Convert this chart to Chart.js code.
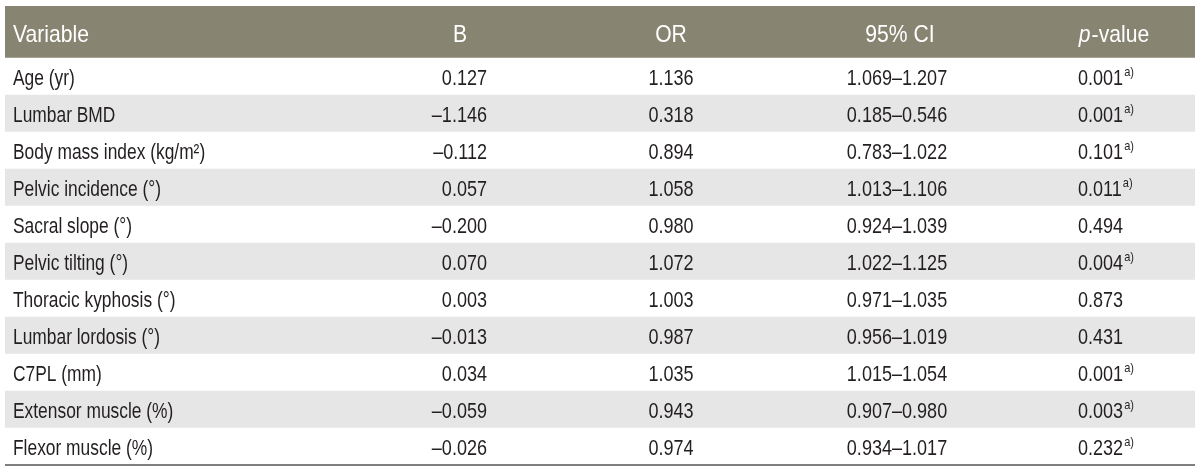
<!DOCTYPE html>
<html><head><meta charset="utf-8">
<script src="https://cdn.jsdelivr.net/npm/chart.js@4/dist/chart.umd.min.js"></script>
<style>html,body{margin:0;padding:0;background:#fff}#wrap{width:1200px;height:472px;position:relative}</style>
</head><body><div id="wrap"><canvas id="c"></canvas></div>
<script>
// ---- data ----
const headers = ['Variable', 'B', 'OR', '95% CI', 'p-value'];
const variables = ['Age (yr)', 'Lumbar BMD', 'Body mass index (kg/m\u00B2)', 'Pelvic incidence (\u00B0)', 'Sacral slope (\u00B0)', 'Pelvic tilting (\u00B0)', 'Thoracic kyphosis (\u00B0)', 'Lumbar lordosis (\u00B0)', 'C7PL (mm)', 'Extensor muscle (%)', 'Flexor muscle (%)'];
const bValues = [0.127, -1.146, -0.112, 0.057, -0.200, 0.070, 0.003, -0.013, 0.034, -0.059, -0.026];
const orValues = [1.136, 0.318, 0.894, 1.058, 0.980, 1.072, 1.003, 0.987, 1.035, 0.943, 0.974];
const ciLow = [1.069, 0.185, 0.783, 1.013, 0.924, 1.022, 0.971, 0.956, 1.015, 0.907, 0.934];
const ciHigh = [1.207, 0.546, 1.022, 1.106, 1.039, 1.125, 1.035, 1.019, 1.054, 0.980, 1.017];
const pValues = [0.001, 0.001, 0.101, 0.011, 0.494, 0.004, 0.873, 0.431, 0.001, 0.003, 0.232];
const pFootnote = ['a)', 'a)', 'a)', 'a)', '', 'a)', '', '', 'a)', 'a)', 'a)'];

// ---- styling / layout ----
const FONT = '"Liberation Sans", Arial, sans-serif';
const HEADER_SPAN = 1.41;
const HEADER_BG = '#878471';
const STRIPE = '#e6e6e6';
const TEXT = '#231f20';
const HEAD_SIZE = 24, HEAD_K = 0.88;
const BODY_SIZE = 22, LABEL_K = 0.79, NUM_K = 0.82;

function fmt(v) { return (v < 0 ? '\u2013' : '') + Math.abs(v).toFixed(3); }

const rowData = [{x: 'row', y: [-HEADER_SPAN, 0]}].concat(variables.map((v, i) => ({x: 'row', y: [i, i + 1]})));
const rowColors = [HEADER_BG].concat(variables.map((v, i) => i % 2 ? STRIPE : '#ffffff'));

function drawNarrow(ctx, str, x, y, align, font, k) {
  ctx.save();
  ctx.font = font;
  ctx.textAlign = align;
  ctx.textBaseline = 'alphabetic';
  ctx.translate(x, y);
  ctx.scale(k, 1);
  ctx.fillText(str, 0, 0);
  const w = ctx.measureText(str).width * k;
  ctx.restore();
  return w;
}
function widthNarrow(ctx, str, font, k) {
  ctx.save(); ctx.font = font; const w = ctx.measureText(str).width * k; ctx.restore(); return w;
}

const tablePlugin = {
  id: 'tableText',
  afterDatasetsDraw(chart) {
    const ctx = chart.ctx, ys = chart.scales.y, cs = chart.scales.col;
    const area = chart.chartArea;
    ctx.save();
    const hf = HEAD_SIZE + 'px ' + FONT, hfi = 'italic ' + hf;
    const bf = BODY_SIZE + 'px ' + FONT, sf = '13px ' + FONT;
    // header
    const hy = ys.getPixelForValue(-HEADER_SPAN / 2) + 9.5;
    ctx.fillStyle = '#ffffff';
    drawNarrow(ctx, headers[0], cs.getPixelForValue(13), hy, 'left', hf, HEAD_K);
    drawNarrow(ctx, headers[1], cs.getPixelForValue(460), hy, 'center', hf, HEAD_K);
    drawNarrow(ctx, headers[2], cs.getPixelForValue(671), hy, 'center', hf, HEAD_K);
    drawNarrow(ctx, headers[3], cs.getPixelForValue(900), hy, 'center', hf, HEAD_K);
    const pPart = headers[4].slice(0, 1), rest = headers[4].slice(1);
    const w1 = widthNarrow(ctx, pPart, hfi, HEAD_K), w2 = widthNarrow(ctx, rest, hf, HEAD_K);
    const px0 = cs.getPixelForValue(1114) - (w1 + w2 + 1) / 2;
    drawNarrow(ctx, pPart, px0, hy, 'left', hfi, HEAD_K);
    drawNarrow(ctx, rest, px0 + w1 + 1, hy, 'left', hf, HEAD_K);

    // body
    ctx.fillStyle = TEXT;
    variables.forEach((name, i) => {
      const by = ys.getPixelForValue(i + 0.5) + 8;
      drawNarrow(ctx, name, cs.getPixelForValue(13), by, 'left', bf, LABEL_K);
      drawNarrow(ctx, fmt(bValues[i]), cs.getPixelForValue(487), by, 'right', bf, NUM_K);
      drawNarrow(ctx, fmt(orValues[i]), cs.getPixelForValue(671), by, 'center', bf, NUM_K);
      drawNarrow(ctx, fmt(ciLow[i]) + '\u2013' + fmt(ciHigh[i]), cs.getPixelForValue(897), by, 'center', bf, NUM_K);
      const px = cs.getPixelForValue(1078);
      const w = drawNarrow(ctx, fmt(pValues[i]), px, by, 'left', bf, NUM_K);
      if (pFootnote[i]) drawNarrow(ctx, pFootnote[i], px + w + 1, by - 9, 'left', sf, 0.85);
    });
    // bottom rule
    const ly = ys.getPixelForValue(variables.length);
    ctx.strokeStyle = '#555555';
    ctx.lineWidth = 1.5;
    ctx.beginPath();
    ctx.moveTo(area.left, ly);
    ctx.lineTo(area.right, ly);
    ctx.stroke();
    ctx.restore();
  }
};

new Chart(document.getElementById('c'), {
  type: 'bar',
  data: {
    labels: ['row'],
    datasets: [{
      label: 'rows',
      data: rowData,
      backgroundColor: rowColors,
      borderWidth: 0,
      barPercentage: 1,
      categoryPercentage: 1
    }]
  },
  options: {
    responsive: true,
    maintainAspectRatio: false,
    animation: false,
    layout: {padding: {left: 5, right: 5, top: 6, bottom: 7}},
    plugins: {legend: {display: false}, tooltip: {enabled: false}},
    scales: {
      x: {type: 'category', display: false},
      y: {type: 'linear', display: false, reverse: true, min: -HEADER_SPAN, max: variables.length},
      col: {type: 'linear', axis: 'x', display: false, offset: false, min: 5, max: 1195}
    }
  },
  plugins: [tablePlugin]
});
</script>
</body></html>
